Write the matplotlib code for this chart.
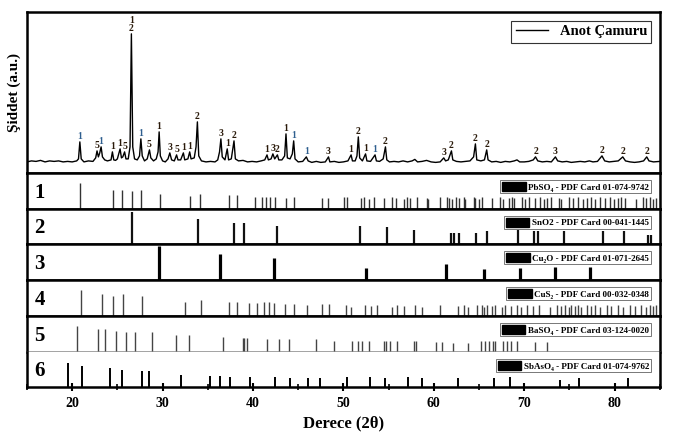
import matplotlib
matplotlib.use('Agg')
import matplotlib.pyplot as plt
from matplotlib.patches import Patch
from matplotlib.ticker import MultipleLocator

plt.rcParams['font.family'] = ['Liberation Serif', 'DejaVu Serif']

# XRD deseni (Anot Çamuru) - resimden okunan noktalar
pattern_x = [15.0, 15.5, 16.0, 16.5, 17.0, 17.5, 18.0, 18.5, 19.0, 19.5, 20.0, 20.5, 20.7, 20.85, 21.0,
             21.3, 21.8, 22.3, 22.6, 22.75, 22.9, 23.05, 23.2, 23.35, 23.6, 23.9, 24.3, 24.45, 24.6,
             24.8, 25.0, 25.3, 25.45, 25.6, 25.8, 25.95, 26.2, 26.4, 26.55, 26.7, 26.9, 27.2, 27.45,
             27.6, 27.75, 28.0, 28.3, 28.55, 28.7, 29.0, 29.3, 29.5, 29.62, 29.75, 30.0, 30.3, 30.6,
             30.8, 31.0, 31.3, 31.55, 31.7, 32.0, 32.3, 32.45, 32.8, 33.0, 33.15, 33.5, 33.7, 33.85,
             34.0, 34.3, 34.8, 35.3, 35.8, 36.1, 36.3, 36.45, 36.6, 36.9, 37.15, 37.3, 37.6, 37.9,
             38.05, 38.4, 38.9, 39.4, 39.9, 40.4, 40.9, 41.3, 41.55, 41.7, 42.0, 42.2, 42.4, 42.7,
             42.85, 43.2, 43.5, 43.65, 43.8, 44.1, 44.35, 44.5, 44.65, 45.0, 45.5, 45.9, 46.1, 46.5,
             47.0, 47.5, 48.0, 48.35, 48.5, 49.0, 49.5, 50.0, 50.5, 50.85, 51.0, 51.3, 51.5, 51.65,
             51.8, 52.1, 52.45, 52.6, 53.0, 53.5, 53.65, 54.0, 54.4, 54.65, 54.8, 55.1, 55.6, 56.1,
             56.6, 57.1, 57.6, 57.9, 58.2, 58.7, 59.2, 59.7, 60.2, 60.7, 61.1, 61.3, 61.6, 61.95,
             62.1, 62.5, 63.0, 63.5, 64.0, 64.4, 64.6, 64.75, 65.2, 65.6, 65.85, 66.0, 66.4, 66.9,
             67.4, 67.9, 68.4, 68.9, 69.2, 69.5, 70.0, 70.5, 71.0, 71.25, 71.5, 72.0, 72.5, 73.0,
             73.45, 73.7, 74.2, 74.7, 75.2, 75.7, 76.2, 76.7, 77.2, 77.6, 78.1, 78.6, 78.9, 79.4,
             79.9, 80.4, 80.9, 81.2, 81.7, 82.2, 82.7, 83.2, 83.55, 83.8, 84.3, 85.0]
pattern_y = [0, 1, 0.5, 1.5, 0, 1, 0.5, 1, 0, 0.5, 0, 1, 3, 20, 3,
             0, 1, 0.5, 4, 11, 5, 9, 15, 5, 2, 1, 2, 10, 2,
             1.5, 3, 13, 4, 5, 10, 3, 3, 15, 128, 15, 3, 2, 6,
             23, 6, 1, 3, 12, 4, 1, 3, 10, 30, 6, 1, 0, 3,
             9, 2, 1, 7, 2, 2, 9, 2, 3, 10, 3, 4, 15, 40,
             6, 1, 0, 0.5, 0, 2, 10, 23, 5, 2, 13, 2, 3, 21,
             3, 1, 1.5, 0, 0.5, 0, 1, 2, 7, 2, 3, 8, 3, 7,
             2, 2, 6, 28, 4, 3, 8, 21, 3, 0, 0.5, 5, 1, -0.5,
             0.5, -0.5, 0, 5, 0, 0.5, -0.5, 0, 1, 7, 1, 1, 6, 25,
             4, 1, 8, 1, 0.5, 7, 1, 0.5, 3, 15, 2, 0, 0.5, 0,
             1, 0, 1, 2.5, 0, 0.5, 1.5, 0, -0.5, 0, 4, 1, 2, 11,
             2, 0.5, 0, 0.5, 1, 5, 18, 2, 1, 2, 12, 2, 0, 0.5,
             -0.5, 0.5, 0, 1, 2, 0, 0, 0.5, 2, 5, 1, 0, 0.5, 0,
             5, 1, 0, 0.5, -0.5, 0, 0.5, 0, 1, 0, 0.5, 6, 1, 0,
             0.5, 1, 5, 1, 0, -0.5, 0, 1, 5, 1, 0, 0.5]

# pik etiketleri (faz numaraları)
label_x = [20.85, 22.75, 23.2, 24.45, 25.3, 25.8, 26.55, 27.6, 28.55, 29.62, 30.8, 31.55, 32.3,
           33.0, 33.85, 36.45, 37.15, 37.9, 41.55, 42.2, 42.7, 43.65, 44.5, 45.9, 48.35, 50.85,
           51.65, 52.45, 53.5, 54.65, 61.1, 61.95, 64.6, 65.85, 71.25, 73.45, 78.6, 80.9, 83.55]
label_text = ['1', '5', '1', '1', '1', '5', '1\n2', '1', '5', '1', '3', '5', '1',
              '1', '2', '3', '1', '2', '1', '3', '2', '1', '1', '1', '3', '1',
              '2', '1', '1', '2', '3', '2', '2', '2', '2', '3', '2', '2', '2']
blue_labels = [20.85, 23.2, 27.6, 44.5, 45.9, 53.5]

pbso4_pos = [20.84, 24.5, 25.55, 26.65, 27.65,
             29.66, 33.05, 34.18, 37.3, 38.19,
             40.25, 41.05, 41.43, 41.87, 42.38,
             43.63, 44.55, 47.67, 48.33, 50.1,
             50.4, 51.9, 52.3, 52.8, 53.4,
             54.5, 55.4, 55.8, 56.7, 57.0,
             57.4, 58.1, 59.2, 59.4, 60.7,
             61.5, 61.7, 62.0, 62.4, 62.8,
             63.3, 63.5, 64.4, 64.6, 65.0,
             65.3, 66.4, 67.3, 67.7, 68.3,
             68.6, 68.9, 69.7, 70.1, 70.5,
             71.2, 71.7, 72.2, 72.5, 73.0,
             73.8, 74.1, 74.9, 75.4, 75.9,
             76.5, 76.9, 77.4, 77.8, 78.4,
             78.9, 79.5, 79.9, 80.4, 80.7,
             81.1, 82.4, 83.1, 83.5, 83.9,
             84.2, 84.6]
pbso4_h = [0.72, 0.52, 0.52, 0.50, 0.52,
           0.42, 0.36, 0.42, 0.38, 0.38,
           0.33, 0.33, 0.33, 0.33, 0.33,
           0.30, 0.33, 0.30, 0.30, 0.33,
           0.33, 0.30, 0.33, 0.28, 0.33,
           0.30, 0.33, 0.30, 0.28, 0.33,
           0.30, 0.33, 0.30, 0.28, 0.33,
           0.33, 0.30, 0.28, 0.33, 0.30,
           0.33, 0.28, 0.33, 0.30, 0.28,
           0.33, 0.30, 0.33, 0.28, 0.30,
           0.33, 0.30, 0.33, 0.28, 0.33,
           0.30, 0.33, 0.28, 0.30, 0.33,
           0.30, 0.28, 0.33, 0.30, 0.33,
           0.28, 0.30, 0.33, 0.28, 0.33,
           0.30, 0.33, 0.28, 0.30, 0.33,
           0.30, 0.28, 0.33, 0.30, 0.33,
           0.28, 0.30]

sno2_pos = [26.65, 33.96, 37.93, 39.0, 42.7, 51.8, 54.85, 57.8, 61.9, 62.2, 62.8,
            64.7, 65.86, 69.3, 71.1, 71.5, 74.4, 78.7, 81.0, 83.7, 84.05]
sno2_h = [0.9, 0.7, 0.6, 0.6, 0.5, 0.5, 0.47, 0.4, 0.3, 0.3, 0.3,
          0.3, 0.36, 0.4, 0.36, 0.36, 0.36, 0.36, 0.36, 0.25, 0.25]

cu2o_pos = [29.55, 36.4, 42.35, 52.5, 61.3, 65.5, 69.5, 73.4, 77.3]
cu2o_h = [0.95, 0.72, 0.62, 0.32, 0.45, 0.3, 0.32, 0.37, 0.37]

cus2_pos = [20.95, 23.35, 24.5, 25.6, 27.7, 32.5, 34.25, 37.4, 38.2, 39.6,
            40.4, 41.2, 41.8, 42.35, 43.55, 44.55, 46.0, 47.67, 48.4,
            50.25, 50.8, 52.4, 53.0, 53.7, 55.4, 55.9, 56.7, 57.9, 58.7,
            60.7, 62.7, 63.3, 63.8, 64.8, 65.3, 65.6, 65.9, 66.4, 66.8,
            67.5, 67.9, 68.5, 69.2, 69.65, 70.3, 71.0, 71.6, 72.85, 73.6,
            74.1, 74.5, 74.9, 75.2, 75.6, 76.0, 76.3, 76.9, 77.4, 77.8,
            78.35, 79.1, 79.6, 80.4, 80.9, 81.7, 82.2, 82.9, 83.5, 83.9,
            84.2, 84.6]
cus2_h = [0.72, 0.62, 0.55, 0.6, 0.55, 0.4, 0.45, 0.38, 0.38, 0.36,
          0.36, 0.38, 0.38, 0.36, 0.33, 0.33, 0.3, 0.33, 0.33,
          0.3, 0.26, 0.3, 0.28, 0.3, 0.26, 0.3, 0.28, 0.3, 0.26,
          0.3, 0.28, 0.3, 0.26, 0.3, 0.3, 0.26, 0.3, 0.28, 0.3,
          0.26, 0.3, 0.28, 0.3, 0.26, 0.3, 0.28, 0.3, 0.26, 0.3,
          0.28, 0.3, 0.26, 0.3, 0.28, 0.3, 0.26, 0.3, 0.28, 0.3,
          0.26, 0.3, 0.28, 0.3, 0.26, 0.3, 0.28, 0.3, 0.26, 0.3,
          0.28, 0.3]

baso4_pos = [20.5, 22.9, 23.6, 24.9, 25.9, 26.9, 28.85, 31.5, 32.9, 36.7,
             38.85, 39.0, 39.3, 41.6, 42.9, 44.0, 47.0, 48.95, 51.0, 51.6,
             52.1, 52.8, 54.5, 54.7, 55.2, 55.9, 57.8, 58.0, 60.2, 60.9,
             62.1, 63.8, 65.2, 65.7, 66.05, 66.5, 66.8, 67.7, 68.1, 68.55,
             69.2, 71.2, 72.5]
baso4_h = [0.72, 0.63, 0.63, 0.58, 0.55, 0.55, 0.55, 0.48, 0.48, 0.42,
           0.4, 0.4, 0.4, 0.35, 0.35, 0.35, 0.35, 0.3, 0.3, 0.3,
           0.3, 0.3, 0.3, 0.3, 0.3, 0.3, 0.3, 0.3, 0.28, 0.28,
           0.25, 0.25, 0.3, 0.3, 0.3, 0.3, 0.3, 0.3, 0.3, 0.3,
           0.3, 0.28, 0.28]

sbaso4_pos = [19.55, 21.1, 24.2, 25.55, 27.7, 28.5, 32.05, 35.2, 36.35, 37.45,
              39.65, 42.45, 44.1, 46.1, 47.4, 50.4, 52.9, 54.6, 57.15, 58.7,
              62.7, 66.7, 68.4, 74.0, 76.05, 81.5]
sbaso4_h = [0.68, 0.6, 0.55, 0.5, 0.45, 0.45, 0.35, 0.32, 0.32, 0.3,
            0.3, 0.3, 0.27, 0.25, 0.25, 0.28, 0.28, 0.25, 0.28, 0.25,
            0.25, 0.25, 0.28, 0.2, 0.25, 0.25]

cards = ['PbSO₄ - PDF Card 01-074-9742', 'SnO2 - PDF Card 00-041-1445',
         'Cu₂O - PDF Card 01-071-2645', 'CuS₂ - PDF Card 00-032-0348',
         'BaSO₄ - PDF Card 03-124-0020', 'SbAsO₄ - PDF Card 01-074-9762']

refs = [(pbso4_pos, pbso4_h, 1.0, '#333333'),
        (sno2_pos, sno2_h, 1.6, '#111111'),
        (cu2o_pos, cu2o_h, 2.3, 'black'),
        (cus2_pos, cus2_h, 1.0, '#444444'),
        (baso4_pos, baso4_h, 1.0, '#444444'),
        (sbaso4_pos, sbaso4_h, 1.4, 'black')]


def main():
    fig = plt.figure(figsize=(6.74, 4.38), dpi=100)
    gs = fig.add_gridspec(7, 1, height_ratios=[161, 36, 35, 36, 36, 36, 35],
                          left=0.040, right=0.979, top=0.973, bottom=0.1164, hspace=0)
    axes = [fig.add_subplot(gs[i]) for i in range(7)]
    for a in axes[1:]:
        a.sharex(axes[0])

    ax = axes[0]
    ax.plot(pattern_x, pattern_y, color='black', lw=1.0, label='Anot Çamuru')
    ax.set_ylim(-11, 150)
    for x, t in zip(label_x, label_text):
        y = max(h for px, h in zip(pattern_x, pattern_y) if abs(px - x) < 0.08)
        c = '#2f5f8f' if x in blue_labels else '#2a1a0a'
        ax.text(x, y + 0.5, t, ha='center', va='bottom', fontsize=7, color=c,
                fontweight='bold', linespacing=0.95)
    leg = ax.legend(loc='upper right', bbox_to_anchor=(0.998, 0.99), fancybox=False,
                    prop={'size': 10.5, 'weight': 'bold'}, handlelength=2.2,
                    borderpad=0.3, framealpha=1)
    leg.get_frame().set_edgecolor('#333333')
    leg.get_frame().set_linewidth(0.8)
    ax.set_ylabel('Şiddet (a.u.)', fontsize=11, fontweight='bold', labelpad=4)

    for i, (pos, h, lw, col) in enumerate(refs):
        a = axes[i + 1]
        a.vlines(pos, 0, h, color=col, lw=lw)
        a.set_ylim(0, 1)
        a.text(0.012, 0.45, str(i + 1), transform=a.transAxes, va='center', ha='left',
               fontsize=15, fontweight='bold')
        lg = a.legend(handles=[Patch(facecolor='black', edgecolor='black')], labels=[cards[i]],
                      loc='upper right', bbox_to_anchor=(0.993, 0.92), fancybox=False,
                      prop={'size': 6.5, 'weight': 'bold'}, handlelength=2.6, handleheight=1.1,
                      borderpad=0.2, handletextpad=0.3, framealpha=1)
        lg.get_frame().set_edgecolor('#777777')
        lg.get_frame().set_linewidth(0.7)

    for a in axes:
        for s in a.spines.values():
            s.set_linewidth(1.8)
        a.set_yticks([])
        a.tick_params(axis='x', which='both', bottom=False, labelbottom=False)
    axes[5].spines['bottom'].set_color('#888888')
    axes[6].spines['top'].set_visible(False)

    axes[0].set_xlim(15, 85)
    bx = axes[6]
    bx.xaxis.set_major_locator(MultipleLocator(10))
    bx.xaxis.set_minor_locator(MultipleLocator(5))
    bx.tick_params(axis='x', which='major', bottom=True, labelbottom=True, direction='inout',
                   length=6, width=1.5, labelsize=10, pad=4)
    bx.tick_params(axis='x', which='minor', bottom=True, direction='inout', length=4, width=1.2)
    for lab in bx.get_xticklabels():
        lab.set_fontweight('bold')
    bx.set_xlabel('Derece (2θ)', fontsize=12, fontweight='bold', labelpad=4)

    fig.savefig('out.png', dpi=100)


if __name__ == '__main__':
    main()
